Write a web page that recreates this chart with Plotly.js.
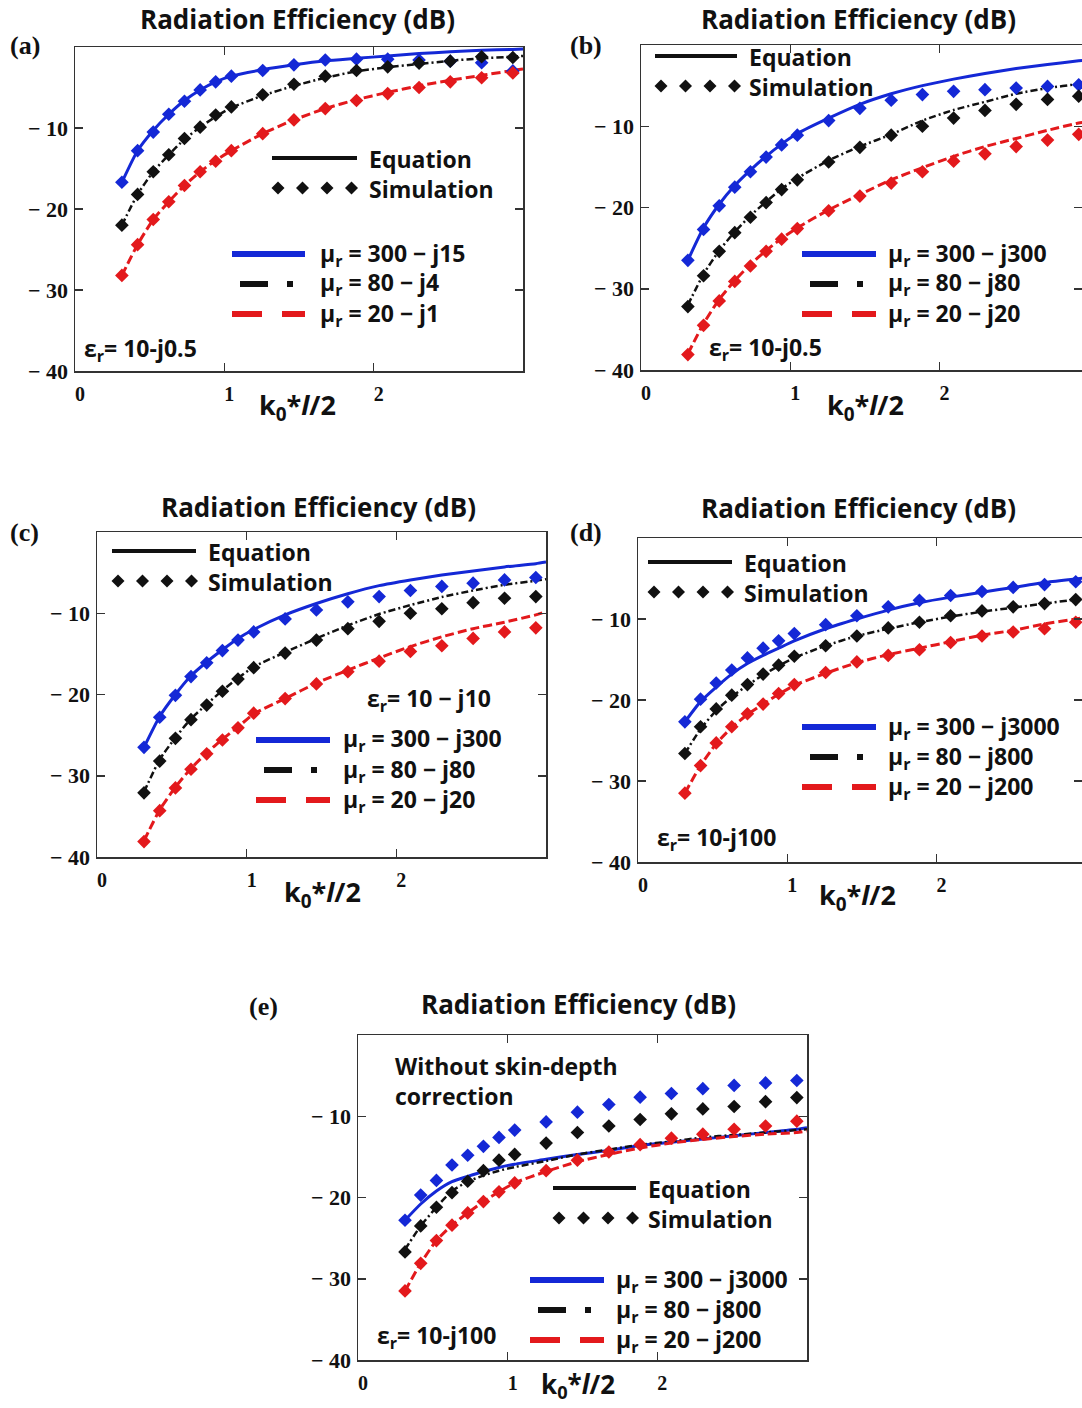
<!DOCTYPE html>
<html><head><meta charset="utf-8">
<script src="https://cdn.plot.ly/plotly-3.0.1.min.js"></script>
<style>html,body{margin:0;padding:0;background:#fff;overflow:hidden}#chart{width:1082px;height:1408px}</style>
</head><body><div id="chart"></div>
<script>
// ---------- data (k0*l/2 vs radiation efficiency, dB) ----------
const xSim = [0.314, 0.419, 0.524, 0.628, 0.733, 0.838, 0.942, 1.047, 1.257, 1.466, 1.676, 1.885, 2.094, 2.304, 2.513, 2.723, 2.932];
const xEq  = [0.314, 0.419, 0.524, 0.628, 0.733, 0.838, 0.942, 1.047, 1.257, 1.466, 1.676, 1.885, 2.094, 2.304, 2.513, 2.723, 2.932, 3.0];

// (a) eps_r = 10 - j0.5
const simBlueA  = [-16.7, -12.8, -10.5, -8.3, -6.7, -5.3, -4.3, -3.6, -2.9, -2.2, -1.6, -1.5, -1.5, -1.6, -1.75, -1.95, -2.95];
const eqBlueA   = [-16.7, -12.8, -10.3, -8.3, -6.6, -5.3, -4.3, -3.6, -2.8, -2.2, -1.7, -1.4, -1.1, -0.8, -0.6, -0.4, -0.3, -0.25];
const simBlackA = [-22.0, -18.2, -15.4, -13.3, -11.3, -9.9, -8.4, -7.4, -5.9, -4.6, -3.6, -2.9, -2.45, -2.0, -1.75, -1.2, -1.3];
const eqBlackA  = [-22.0, -18.2, -15.4, -13.3, -11.4, -9.9, -8.6, -7.5, -6.0, -4.8, -3.8, -3.0, -2.5, -2.1, -1.7, -1.4, -1.2, -1.1];
const simRedA   = [-28.2, -24.4, -21.3, -19.1, -17.1, -15.4, -14.1, -12.8, -10.7, -9.0, -7.6, -6.6, -5.75, -5.0, -4.3, -3.8, -3.2];
const eqRedA    = [-28.2, -24.4, -21.3, -19.1, -17.1, -15.4, -14.0, -12.8, -10.7, -9.0, -7.6, -6.5, -5.6, -4.8, -4.1, -3.5, -2.9, -2.7];

// (b) eps_r = 10 - j0.5
const simBlueB  = [-26.5, -22.7, -19.8, -17.5, -15.6, -13.8, -12.3, -11.1, -9.3, -7.8, -6.8, -6.1, -5.7, -5.5, -5.3, -5.1, -4.9];
const eqBlueB   = [-26.5, -22.5, -19.6, -17.3, -15.4, -13.7, -12.2, -10.9, -9.0, -7.3, -6.0, -5.0, -4.2, -3.5, -2.9, -2.4, -1.95, -1.8];
const simBlackB = [-32.2, -28.4, -25.4, -23.1, -21.2, -19.4, -17.8, -16.6, -14.4, -12.6, -11.1, -10.0, -9.0, -8.05, -7.3, -6.7, -6.3];
const eqBlackB  = [-32.0, -28.2, -25.3, -23.0, -21.0, -19.3, -17.7, -16.4, -14.2, -12.5, -11.0, -9.3, -8.0, -7.0, -6.0, -5.3, -4.8, -4.6];
const simRedB   = [-38.1, -34.5, -31.5, -29.1, -27.2, -25.4, -23.9, -22.6, -20.4, -18.6, -17.0, -15.6, -14.3, -13.4, -12.5, -11.7, -11.0];
const eqRedB    = [-38.0, -34.3, -31.3, -29.0, -27.0, -25.3, -23.8, -22.5, -20.3, -18.4, -16.6, -15.1, -13.7, -12.5, -11.5, -10.5, -9.6, -9.4];

// (c) eps_r = 10 - j10
const simBlueC  = [-26.5, -22.8, -20.1, -17.8, -16.1, -14.6, -13.3, -12.3, -10.7, -9.6, -8.6, -7.95, -7.2, -6.7, -6.3, -5.9, -5.6];
const eqBlueC   = [-26.5, -22.7, -20.0, -17.7, -16.0, -14.5, -13.1, -12.0, -10.2, -8.8, -7.6, -6.6, -5.9, -5.3, -4.8, -4.3, -3.9, -3.7];
const simBlackC = [-32.1, -28.2, -25.4, -23.1, -21.3, -19.6, -18.1, -16.7, -14.9, -13.3, -11.9, -11.0, -10.0, -9.45, -8.7, -8.15, -7.95];
const eqBlackC  = [-32.0, -28.0, -25.3, -23.0, -21.2, -19.5, -18.0, -16.6, -14.8, -13.1, -11.5, -10.1, -9.0, -8.0, -7.2, -6.5, -6.0, -5.8];
const simRedC   = [-38.1, -34.3, -31.5, -29.2, -27.3, -25.6, -24.1, -22.3, -20.5, -18.7, -17.2, -15.9, -14.7, -14.0, -13.1, -12.3, -11.8];
const eqRedC    = [-38.0, -34.2, -31.4, -29.1, -27.2, -25.5, -24.0, -22.4, -20.5, -18.6, -17.0, -15.5, -14.1, -12.9, -11.9, -11.1, -10.2, -9.8];

// (d) eps_r = 10 - j100
const simBlueD  = [-22.7, -19.9, -17.9, -16.3, -14.8, -13.6, -12.7, -11.8, -10.7, -9.6, -8.5, -7.7, -7.1, -6.6, -6.1, -5.75, -5.4];
const eqBlueD   = [-22.7, -20.2, -18.4, -16.8, -15.5, -14.5, -13.6, -12.7, -11.2, -10.0, -8.9, -8.0, -7.3, -6.7, -6.1, -5.5, -5.05, -4.9];
const simBlackD = [-26.6, -23.3, -21.1, -19.4, -18.1, -16.8, -15.7, -14.6, -13.3, -12.1, -11.1, -10.4, -9.6, -9.0, -8.5, -8.1, -7.6];
const eqBlackD  = [-26.6, -23.6, -21.3, -19.6, -18.2, -16.9, -15.8, -14.8, -13.3, -12.1, -11.2, -10.4, -9.7, -9.1, -8.6, -8.1, -7.6, -7.5];
const simRedD   = [-31.5, -28.1, -25.3, -23.3, -21.7, -20.5, -19.2, -18.1, -16.6, -15.3, -14.5, -13.8, -12.9, -12.1, -11.6, -11.2, -10.4];
const eqRedD    = [-31.5, -28.1, -25.4, -23.4, -21.8, -20.5, -19.3, -18.2, -16.7, -15.4, -14.4, -13.6, -12.8, -12.0, -11.4, -10.6, -10.0, -9.8];

// (e) eps_r = 10 - j100, without skin-depth correction
const simBlueE  = [-22.8, -19.7, -17.9, -16.0, -14.8, -13.7, -12.6, -11.7, -10.7, -9.5, -8.55, -7.65, -7.2, -6.6, -6.2, -5.9, -5.6];
const eqBlueE   = [-22.8, -20.8, -19.2, -18.05, -17.4, -16.8, -16.3, -15.9, -15.3, -14.7, -14.2, -13.6, -13.2, -12.8, -12.4, -12.0, -11.6, -11.4];
const simBlackE = [-26.7, -23.5, -21.2, -19.4, -18.0, -16.7, -15.4, -14.7, -13.3, -12.0, -11.2, -10.4, -9.7, -9.1, -8.8, -8.2, -7.7];
const eqBlackE  = [-26.4, -23.5, -21.2, -19.2, -18.05, -17.3, -16.7, -16.25, -15.5, -14.7, -14.1, -13.5, -13.1, -12.6, -12.3, -12.0, -11.7, -11.6];
const simRedE   = [-31.5, -28.1, -25.3, -23.4, -21.9, -20.5, -19.3, -18.2, -16.7, -15.4, -14.4, -13.5, -12.7, -12.2, -11.6, -11.2, -10.6];
const eqRedE    = [-31.5, -28.1, -25.3, -23.4, -21.9, -20.5, -19.3, -18.2, -16.8, -15.6, -14.7, -13.9, -13.3, -12.85, -12.5, -12.2, -12.0, -11.8];

const yTickVals = [-40, -30, -20, -10];
const yTickText = ['\u2212 40', '\u2212 30', '\u2212 20', '\u2212 10'];
const xTickVals = [0, 1, 2];
const xTickText = ['0', '1', '2'];

const namesA = ['300 \u2212 j15', '80 \u2212 j4', '20 \u2212 j1'];
const namesBC = ['300 \u2212 j300', '80 \u2212 j80', '20 \u2212 j20'];
const namesDE = ['300 \u2212 j3000', '80 \u2212 j800', '20 \u2212 j200'];

// ---------- styling / layout ----------
const W = 1082, H = 1408;
const X = p => p / W, Y = p => 1 - p / H;
const SANS = "'Open Sans', Lato, 'DejaVu Sans', sans-serif";
const SERIF = "'Liberation Serif', 'DejaVu Serif', serif";
const COLORS = ['#1428d6', '#111111', '#e3191c'];
const AX = '#333333';

const panels = [
  {label:'(a)', sim:[simBlueA,simBlackA,simRedA], eq:[eqBlueA,eqBlackA,eqRedA], names:namesA,
   box:[75,523,47,371], xmax:3, lab:[8,45], title:[297,19], xt:[297,406],
   legEq:[272,357,158], legSer:[232,305,254,318], notes:[['\u03b5<sub>r</sub>= 10-j0.5',82,350]]},
  {label:'(b)', sim:[simBlueB,simBlackB,simRedB], eq:[eqBlueB,eqBlackB,eqRedB], names:namesBC,
   box:[641,1082,45,370], xmax:2.954, lab:[568,45], title:[859,19], xt:[865,406],
   legEq:[655,737,56], legSer:[802,876,254,886], notes:[['\u03b5<sub>r</sub>= 10-j0.5',707,349]]},
  {label:'(c)', sim:[simBlueC,simBlackC,simRedC], eq:[eqBlueC,eqBlackC,eqRedC], names:namesBC,
   box:[97,546,532,857], xmax:3, lab:[8,532], title:[318,507], xt:[322,893],
   legEq:[112,196,551], legSer:[256,330,740,341], notes:[['\u03b5<sub>r</sub>= 10 \u2212 j10',365,699]]},
  {label:'(d)', sim:[simBlueD,simBlackD,simRedD], eq:[eqBlueD,eqBlackD,eqRedD], names:namesDE,
   box:[638,1082,538,862], xmax:2.974, lab:[568,532], title:[858,508], xt:[857,896],
   legEq:[648,732,562], legSer:[802,876,727,886], notes:[['\u03b5<sub>r</sub>= 10-j100',655,839]]},
  {label:'(e)', sim:[simBlueE,simBlackE,simRedE], eq:[eqBlueE,eqBlackE,eqRedE], names:namesDE,
   box:[358,807,1035,1360], xmax:3, lab:[247,1006], title:[578,1004], xt:[578,1385],
   legEq:[553,636,1188], legSer:[530,604,1280,614],
   notes:[['\u03b5<sub>r</sub>= 10-j100',375,1336],['Without skin-depth',393,1066],['correction',393,1096]]}
];

const traces = [];
const shapes = [];
const annotations = [];
const layout = {
  width: W, height: H, autosize: false,
  margin: {l:0, r:0, t:0, b:0},
  paper_bgcolor: '#ffffff', plot_bgcolor: '#ffffff',
  showlegend: false,
  shapes: shapes, annotations: annotations
};

function txt(text, px, py, size, family, anchor, color) {
  annotations.push({text: text, x: X(px), y: Y(py), xref:'paper', yref:'paper',
    xanchor: anchor || 'left', yanchor: 'middle', showarrow: false,
    font: {family: family || SANS, size: size, color: color || '#111', weight: 'bold'}});
}
function seg(x0, x1, y, color, w) {
  shapes.push({type:'line', xref:'paper', yref:'paper', x0:X(x0), x1:X(x1), y0:Y(y), y1:Y(y),
    line:{color: color, width: w}});
}
function diamond(cx, cy, r) {
  shapes.push({type:'path', xref:'paper', yref:'paper',
    path: 'M' + X(cx) + ',' + Y(cy - r) + ' L' + X(cx + r) + ',' + Y(cy) + ' L' + X(cx) + ',' + Y(cy + r) + ' L' + X(cx - r) + ',' + Y(cy) + ' Z',
    fillcolor: '#111', line: {color: '#111', width: 0}});
}

const dashes = ['solid', '7px,3px,2px,3px', '9px,4px'];
const widths = [3, 2.5, 3];

panels.forEach((p, i) => {
  const n = i === 0 ? '' : String(i + 1);
  const xa = 'x' + n, ya = 'y' + n;
  const [l, r, t, b] = p.box;
  layout['xaxis' + n] = {
    domain: [X(l), X(r)], range: [0, p.xmax], anchor: ya,
    tickvals: xTickVals, ticktext: xTickText,
    ticks: 'inside', ticklen: 8, tickwidth: 1.5, tickcolor: AX,
    showline: true, linecolor: AX, linewidth: 1.5, mirror: 'ticks',
    showgrid: false, zeroline: false, fixedrange: true,
    ticklabelstandoff: 4, ticklabelshift: 5,
    tickfont: {family: SERIF, size: 20, color: '#111', weight: 'bold'}
  };
  layout['yaxis' + n] = {
    domain: [Y(b), Y(t)], range: [-40, 0], anchor: xa,
    tickvals: yTickVals, ticktext: yTickText,
    ticks: 'inside', ticklen: 8, tickwidth: 1.5, tickcolor: AX,
    showline: true, linecolor: AX, linewidth: 1.5, mirror: 'ticks',
    showgrid: false, zeroline: false, fixedrange: true,
    ticklabelstandoff: 1,
    tickfont: {family: SERIF, size: 22, color: '#111', weight: 'bold'}
  };
  for (let k = 0; k < 3; k++) {
    traces.push({type:'scatter', mode:'lines', x: xEq, y: p.eq[k], xaxis: xa, yaxis: ya,
      line: {color: COLORS[k], width: widths[k], dash: dashes[k], shape: 'spline', smoothing: 0.6},
      hoverinfo: 'skip'});
  }
  for (let k = 0; k < 3; k++) {
    traces.push({type:'scatter', mode:'markers', x: xSim, y: p.sim[k], xaxis: xa, yaxis: ya,
      marker: {symbol: 'diamond', size: 10.5, color: COLORS[k], line: {width: 0}},
      hoverinfo: 'skip'});
  }
  // titles and labels
  txt('Radiation Efficiency (dB)', p.title[0], p.title[1], 26, SANS, 'center');
  txt(p.label, p.lab[0], p.lab[1], 26, SERIF, 'left');
  txt('k<sub>0</sub>*<i>l</i>/2', p.xt[0], p.xt[1], i === 4 ? 26 : 27, SANS, 'center');
  // Equation / Simulation key
  const [e0, e1, ey] = p.legEq;
  seg(e0, e1, ey, '#111', 4);
  for (let j = 0; j < 4; j++) diamond(e0 + 6 + j * 24.5, ey + 30, 6.5);
  txt('Equation', e1 + 10, ey + 1, 23, SANS, 'left');
  txt('Simulation', e1 + 10, ey + 31, 23, SANS, 'left');
  // series key
  const [s0, s1, sy, stx] = p.legSer;
  seg(s0, s1, sy, COLORS[0], 6);
  seg(s0 + 8, s0 + 36, sy + 30, COLORS[1], 6);
  seg(s0 + 55, s0 + 61, sy + 30, COLORS[1], 6);
  seg(s0, s0 + 30, sy + 60, COLORS[2], 6);
  seg(s0 + 50, s1, sy + 60, COLORS[2], 6);
  for (let k = 0; k < 3; k++) txt('\u03bc<sub>r</sub> = ' + p.names[k], stx, sy + 30 * k, 23, SANS, 'left');
  p.notes.forEach(nt => txt(nt[0], nt[1], nt[2], 23, SANS, 'left'));
});

Plotly.newPlot('chart', traces, layout, {staticPlot: true, displayModeBar: false});
</script>
</body></html>
